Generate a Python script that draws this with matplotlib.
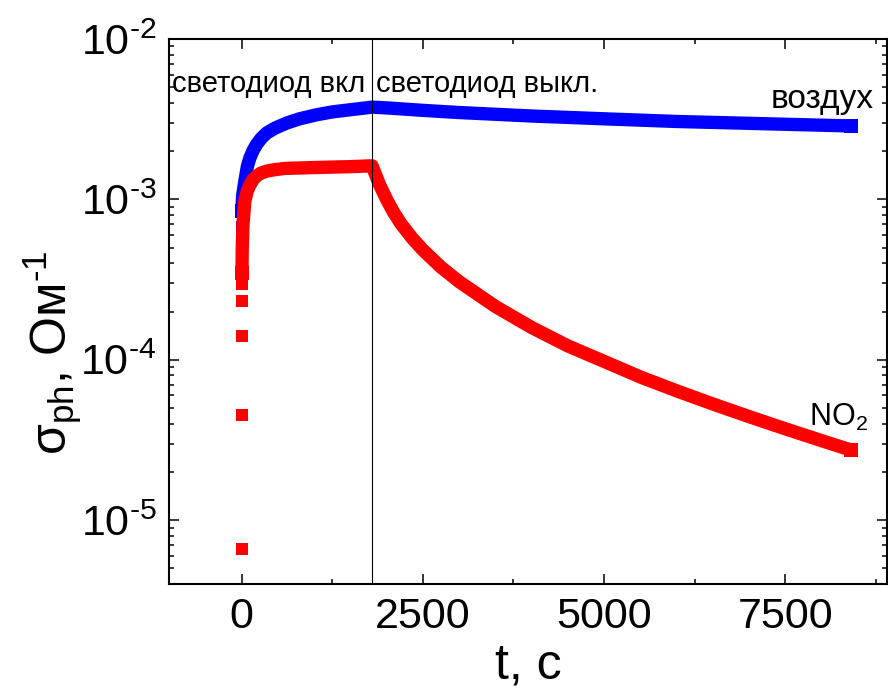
import matplotlib
matplotlib.use("Agg")
import matplotlib.pyplot as plt
import numpy as np
from matplotlib import font_manager
from matplotlib.ticker import LogLocator, NullFormatter, MultipleLocator, FuncFormatter


def pick_family():
    for name in ["Liberation Sans Narrow", "Arial Narrow", "Liberation Sans", "Arial"]:
        try:
            font_manager.findfont(name, fallback_to_default=False)
            return name
        except ValueError:
            continue
    return "DejaVu Sans"


FAMILY = pick_family()
plt.rcParams["font.family"] = [FAMILY, "DejaVu Sans"]
plt.rcParams["mathtext.fontset"] = "custom"
plt.rcParams["mathtext.rm"] = FAMILY
plt.rcParams["mathtext.it"] = FAMILY
plt.rcParams["mathtext.default"] = "regular"
plt.rcParams["axes.unicode_minus"] = False

# Photoconductivity in air (blue): time, s / sigma, Ohm^-1
air_t = [0, 5, 15, 46, 80, 115, 160, 207, 270, 345, 460, 621, 800, 1036, 1250,
         1495, 1800, 2000, 2500, 3000, 4000, 5000, 6000, 7000, 8400]
air_sigma = [6.7e-4, 8.5e-4, 1.05e-3, 1.30e-3, 1.60e-3, 1.81e-3, 2.02e-3, 2.20e-3,
             2.40e-3, 2.59e-3, 2.78e-3, 2.99e-3, 3.18e-3, 3.37e-3, 3.51e-3,
             3.62e-3, 3.76e-3, 3.72e-3, 3.59e-3, 3.48e-3, 3.31e-3, 3.18e-3,
             3.06e-3, 2.98e-3, 2.87e-3]

# Photoconductivity in NO2 (red)
no2_t = [0, 1, 2, 3, 4, 6, 10, 20, 46, 80, 115, 160, 207, 270, 345, 450, 600,
         1000, 1500, 1800, 1900, 2000, 2100, 2200, 2350, 2500, 2750, 3000, 3500,
         4000, 4500, 5000, 5500, 6000, 6500, 7000, 7500, 8000, 8400]
no2_sigma = [6.6e-6, 4.5e-5, 1.4e-4, 2.33e-4, 2.98e-4, 3.5e-4, 5.0e-4, 7.0e-4,
             9.8e-4, 1.13e-3, 1.23e-3, 1.33e-3, 1.40e-3, 1.46e-3, 1.50e-3, 1.53e-3,
             1.56e-3, 1.58e-3, 1.60e-3, 1.62e-3, 1.245e-3, 1.0e-3, 8.26e-4, 7.03e-4,
             5.75e-4, 4.84e-4, 3.78e-4, 3.07e-4, 2.15e-4, 1.59e-4, 1.22e-4, 9.77e-5,
             7.81e-5, 6.40e-5, 5.30e-5, 4.42e-5, 3.71e-5, 3.13e-5, 2.74e-5]

led_off_t = 1800
x_ticks = [0, 2500, 5000, 7500]

MS = 8.6   # square marker side, pt
LW = 9.6   # width of the dense sample band, pt


def draw_series(t, s, n_sep, color):
    # separate early samples as squares, the rest as a continuous band
    ax.plot(t[:n_sep], s[:n_sep], ls="none", marker="s", ms=MS, mew=0, color=color)
    ax.plot(t[n_sep:], s[n_sep:], ls="-", lw=LW, color=color,
            solid_joinstyle="round", solid_capstyle="butt",
            marker="s", ms=MS * 1.1, mew=0, markevery=[0, -1])


def decade_label(v, pos):
    exp = int(round(np.log10(v)))
    sign = r"\text{-}" if exp < 0 else ""
    return r"$\mathdefault{10^{%s%d}}$" % (sign, abs(exp))


fig = plt.figure(figsize=(8.88, 6.91), dpi=100)
ax = fig.add_axes([169 / 888, 1 - 584 / 691, (887 - 169) / 888, (584 - 39) / 691])

draw_series(air_t, air_sigma, 1, "#0000ff")
draw_series(no2_t, no2_sigma, 5, "#ff0000")

ax.axvline(led_off_t, color="black", lw=0.8)

ax.set_yscale("log")
ax.set_xlim(-1000, 8900)
ax.set_ylim(4e-6, 1e-2)

ax.set_xticks(x_ticks)
ax.xaxis.set_minor_locator(MultipleLocator(1250))
ax.yaxis.set_major_locator(LogLocator(base=10, numticks=10))
ax.yaxis.set_major_formatter(FuncFormatter(decade_label))
ax.yaxis.set_minor_locator(LogLocator(base=10, subs=range(2, 10), numticks=20))
ax.yaxis.set_minor_formatter(NullFormatter())

ax.tick_params(which="both", direction="in", top=True, right=True,
               labelsize=31, width=1.1)
ax.tick_params(which="major", length=7.5, pad=9)
ax.tick_params(which="minor", length=3.8)
for sp in ax.spines.values():
    sp.set_linewidth(1.5)

ax.set_xlabel("t, с", fontsize=36, labelpad=4)
ax.set_ylabel(r"σ$_{ph}$, Ом$^{\text{-}1}$", fontsize=36)
ax.yaxis.set_label_coords(-0.118, 0.425)

ax.text(led_off_t - 90, 4.7e-3, "светодиод вкл", fontsize=21, ha="right",
        va="baseline")
ax.text(led_off_t + 60, 4.7e-3, "светодиод выкл.", fontsize=21, ha="left",
        va="baseline")
ax.text(8720, 3.69e-3, "воздух", fontsize=24, ha="right", va="baseline")
ax.text(7820, 3.86e-5, "NO$_2$", fontsize=22, ha="left", va="baseline")

fig.savefig("out.png", dpi=100)
